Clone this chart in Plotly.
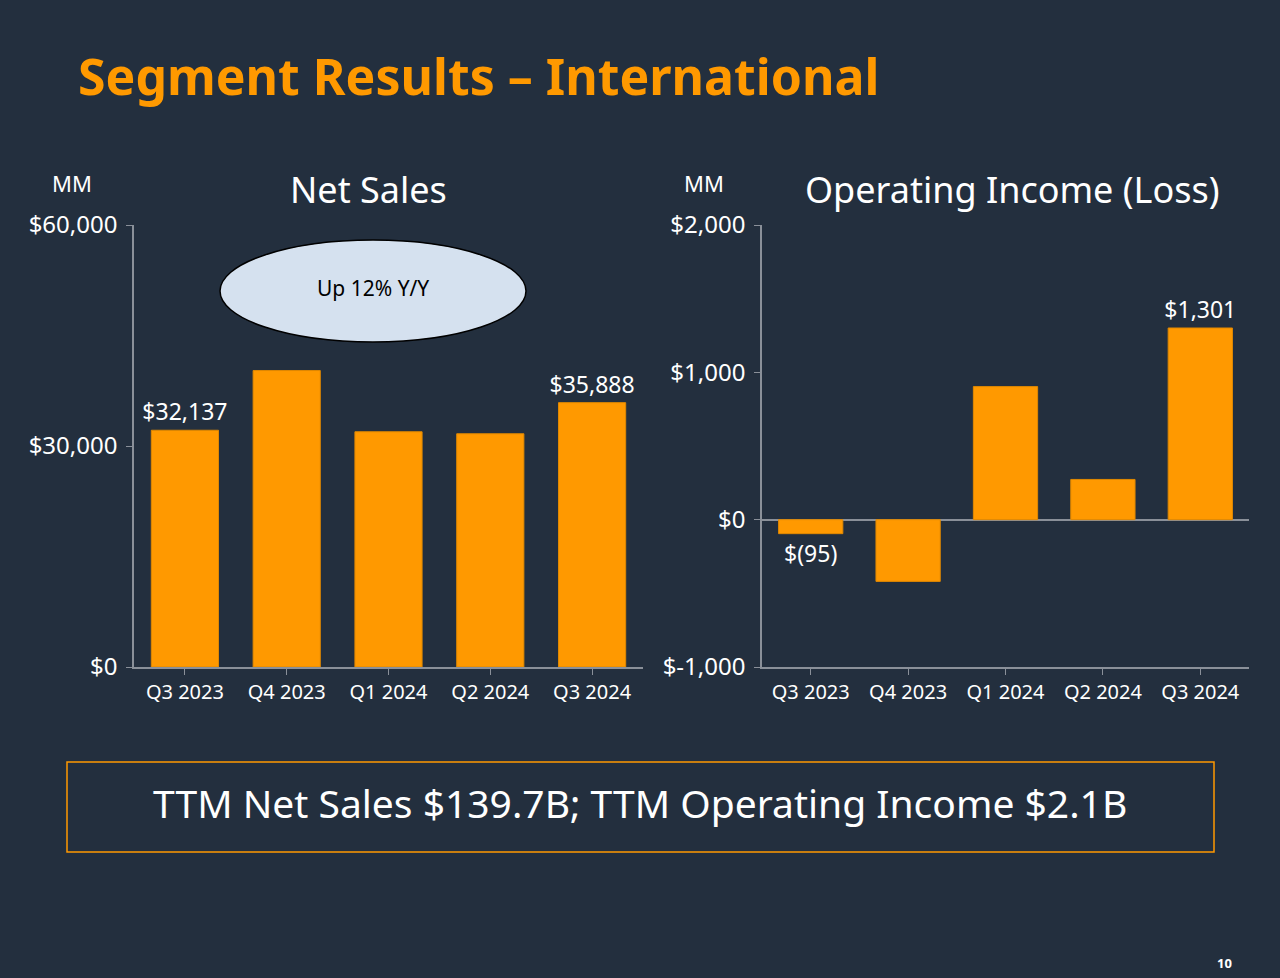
import plotly.graph_objects as go
from plotly.subplots import make_subplots

quarters = ["Q3 2023", "Q4 2023", "Q1 2024", "Q2 2024", "Q3 2024"]
net_sales = [32137, 40243, 31935, 31663, 35888]
net_sales_labels = ["$32,137", "", "", "", "$35,888"]
op_income = [-95, -419, 903, 273, 1301]
op_income_labels = ["$(95)", "", "", "", "$1,301"]

sales_ticks = [0, 30000, 60000]
sales_ticktext = ["$0", "$30,000", "$60,000"]
income_ticks = [-1000, 0, 1000, 2000]
income_ticktext = ["$-1,000", "$0", "$1,000", "$2,000"]

BG = "#232F3E"
ORANGE = "#FF9900"
AXIS = "#8A9099"
FONT = "Noto Sans"

fig = make_subplots(rows=1, cols=2)

fig.add_trace(
    go.Bar(
        x=quarters, y=net_sales, text=net_sales_labels,
        textposition="outside", cliponaxis=False, constraintext="none",
        textfont=dict(color="white", size=23, family=FONT),
        marker=dict(color=ORANGE, line=dict(color="#E08800", width=1)),
        name="Net Sales"
    ),
    row=1, col=1
)

# negative label sits below the bar, positive above
fig.add_trace(
    go.Bar(
        x=quarters, y=op_income, text=op_income_labels,
        textposition="outside", cliponaxis=False, constraintext="none",
        textfont=dict(color="white", size=23, family=FONT),
        marker=dict(color=ORANGE, line=dict(color="#E08800", width=1)),
        name="Operating Income"
    ),
    row=1, col=2
)

axis_common = dict(
    showline=True, linecolor=AXIS, linewidth=1.5,
    ticks="outside", tickcolor=AXIS, ticklen=6,
    tickfont=dict(color="white", size=20, family=FONT),
    showgrid=False, zeroline=False, fixedrange=True, automargin=False
)

fig.update_xaxes(axis_common)
fig.update_yaxes(axis_common)
fig.update_yaxes(tickfont=dict(color="white", size=24, family=FONT), ticklabelstandoff=4)

fig.update_xaxes(domain=[134 / 1280, 643 / 1280], row=1, col=1)
fig.update_xaxes(domain=[762 / 1280, 1249 / 1280], row=1, col=2)
fig.update_yaxes(
    domain=[311 / 978, 753 / 978], range=[0, 60000],
    tickvals=sales_ticks, ticktext=sales_ticktext, row=1, col=1
)
fig.update_yaxes(
    domain=[311 / 978, 753 / 978], range=[-1000, 2000],
    tickvals=income_ticks, ticktext=income_ticktext,
    zeroline=True, zerolinecolor=AXIS, zerolinewidth=1.5, row=1, col=2
)

# "Up 12% Y/Y" callout
fig.add_shape(
    type="circle", xref="paper", yref="paper",
    x0=220 / 1280, x1=526 / 1280, y0=1 - 342 / 978, y1=1 - 240 / 978,
    fillcolor="#D5E1EF", line=dict(color="black", width=1.5), layer="above"
)
fig.add_annotation(
    x=373 / 1280, y=1 - 288 / 978, xref="paper", yref="paper",
    text="Up 12% Y/Y", showarrow=False, xanchor="center", yanchor="middle",
    font=dict(color="black", size=21, family=FONT)
)

# TTM box
fig.add_shape(
    type="rect", xref="paper", yref="paper",
    x0=67 / 1280, x1=1214 / 1280, y0=1 - 852 / 978, y1=1 - 762 / 978,
    line=dict(color=ORANGE, width=1.5)
)

texts = [
    ("Segment Results – International", 76, 76, 50, ORANGE, "left", True),
    ("Net Sales", 368, 189, 36, "white", "center", False),
    ("Operating Income (Loss)", 1012, 189, 36, "white", "center", False),
    ("MM", 72, 183, 22, "white", "center", False),
    ("MM", 704, 183, 22, "white", "center", False),
    ("TTM Net Sales $139.7B; TTM Operating Income $2.1B", 640, 802, 39, "white", "center", False),
    ("10", 1224, 963, 13, "white", "center", True),
]
for txt, px, py, size, color, anchor, bold in texts:
    fig.add_annotation(
        x=px / 1280, y=1 - py / 978, xref="paper", yref="paper",
        text=f"<b>{txt}</b>" if bold else txt, showarrow=False,
        xanchor=anchor, yanchor="middle",
        font=dict(color=color, size=size, family=FONT)
    )

fig.update_layout(
    width=1280, height=978,
    margin=dict(l=0, r=0, t=0, b=0, autoexpand=False),
    paper_bgcolor=BG, plot_bgcolor=BG,
    showlegend=False, bargap=0.34,
    font=dict(family=FONT, color="white")
)

fig.write_html(
    "out.html",
    config={"displayModeBar": False},
    post_script="document.body.style.margin='0';document.body.style.background='#232F3E';"
)
